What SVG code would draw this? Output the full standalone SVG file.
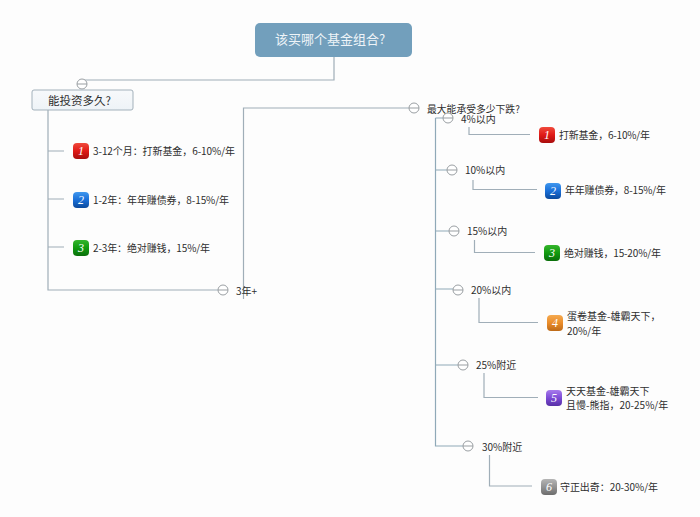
<svg xmlns="http://www.w3.org/2000/svg" width="700" height="517" viewBox="0 0 700 517">
<style>
text{font-family:"Noto Sans CJK SC","Noto Sans",sans-serif;font-size:10px;fill:#2e2e2e}
.c{fill:none;stroke:#a0aeb8;stroke-width:1.2}
.m{fill:#fff;stroke:#9a9fa3;stroke-width:1}
.d{font-family:"Liberation Serif",serif;font-style:italic;font-size:12px;fill:#fff;text-anchor:middle}
</style>
<defs>
<linearGradient id="r" x1="0" y1="0" x2="0" y2="1"><stop offset="0" stop-color="#f04a3c"/><stop offset=".5" stop-color="#e01a17"/><stop offset="1" stop-color="#a80d0d"/></linearGradient>
<linearGradient id="b" x1="0" y1="0" x2="0" y2="1"><stop offset="0" stop-color="#3f97ee"/><stop offset=".5" stop-color="#1a6fd8"/><stop offset="1" stop-color="#0c4a9c"/></linearGradient>
<linearGradient id="g" x1="0" y1="0" x2="0" y2="1"><stop offset="0" stop-color="#35b52c"/><stop offset=".5" stop-color="#119a10"/><stop offset="1" stop-color="#0a6e0a"/></linearGradient>
<linearGradient id="o" x1="0" y1="0" x2="0" y2="1"><stop offset="0" stop-color="#f5aa50"/><stop offset=".5" stop-color="#ea8c2a"/><stop offset="1" stop-color="#bd6a18"/></linearGradient>
<linearGradient id="p" x1="0" y1="0" x2="0" y2="1"><stop offset="0" stop-color="#a77bec"/><stop offset=".5" stop-color="#7d4bd6"/><stop offset="1" stop-color="#5730a5"/></linearGradient>
<linearGradient id="s" x1="0" y1="0" x2="0" y2="1"><stop offset="0" stop-color="#b5b5b5"/><stop offset=".5" stop-color="#939393"/><stop offset="1" stop-color="#6c6c6c"/></linearGradient>
<linearGradient id="bx" x1="0" y1="0" x2="0" y2="1"><stop offset="0" stop-color="#f7f9fb"/><stop offset="1" stop-color="#eef3f7"/></linearGradient>
<g id="minus"><circle r="5" class="m"/><path d="M-5 0H5" stroke="#9a9fa3" stroke-width="1"/></g>
</defs>
<rect width="700" height="517" fill="#fdfdfd"/>
<g id="connectors">
<path class="c" d="M334 57V80H82"/>
<path class="c" d="M48 110V290H218"/>
<path class="c" d="M48 151H64M48 199H64M48 247H64"/>
<path class="c" d="M243.500 299V108H409"/>
<path class="c" style="stroke:#8fa9b8" d="M435.500 118V446H463M435.500 118H443M435.500 170H447M435.500 231H449M435.500 289H453M435.500 365H458"/>
<path class="c" d="M469 127V134.500H530"/>
<path class="c" d="M473 180V189.500H537"/>
<path class="c" d="M474.500 240V252.500H535"/>
<path class="c" d="M479 298V322.500H538"/>
<path class="c" d="M484 373V397.500H538"/>
<path class="c" d="M489.500 455V486H532"/>
</g>
<g id="root"><rect x="255" y="23" width="157" height="34" rx="5" fill="#729fbc"/><text x="330" y="44" style="font-size:13px;fill:#eef4f8" text-anchor="middle">该买哪个基金组合?</text></g>
<g id="n-duration"><use href="#minus" x="82" y="84"/><rect x="32" y="90" width="101" height="20" rx="2" fill="url(#bx)" stroke="#a3b1bb"/><text x="48" y="105" style="font-size:11.500px">能投资多久?</text></g>
<g id="d1"><rect x="73" y="143" width="16" height="16" rx="4" fill="url(#r)"/><text class="d" x="81" y="155">1</text><text x="93" y="155" textLength="142">3-12个月：打新基金，6-10%/年</text></g>
<g id="d2"><rect x="73" y="192" width="16" height="16" rx="4" fill="url(#b)"/><text class="d" x="81" y="204">2</text><text x="93" y="204" textLength="136">1-2年：年年赚债券，8-15%/年</text></g>
<g id="d3"><rect x="73" y="240" width="16" height="16" rx="4" fill="url(#g)"/><text class="d" x="81" y="252">3</text><text x="93" y="252" textLength="117">2-3年：绝对赚钱，15%/年</text></g>
<g id="n-3y"><use href="#minus" x="223" y="290"/><text x="236" y="295">3年+</text></g>
<g id="n-drop"><use href="#minus" x="414" y="108"/><text x="427" y="112.500" style="font-size:9.800px">最大能承受多少下跌?</text></g>
<g id="a1"><use href="#minus" x="448" y="118"/><text x="461" y="123">4%以内</text></g>
<g id="a2"><use href="#minus" x="452" y="170"/><text x="465" y="174">10%以内</text></g>
<g id="a3"><use href="#minus" x="454" y="231"/><text x="467" y="235">15%以内</text></g>
<g id="a4"><use href="#minus" x="458" y="290"/><text x="471" y="294">20%以内</text></g>
<g id="a5"><use href="#minus" x="463" y="365"/><text x="476" y="369">25%附近</text></g>
<g id="a6"><use href="#minus" x="468" y="446"/><text x="482" y="451">30%附近</text></g>
<g id="b1"><rect x="539" y="127" width="16" height="16" rx="4" fill="url(#r)"/><text class="d" x="547" y="139">1</text><text x="559" y="139" textLength="91">打新基金，6-10%/年</text></g>
<g id="b2"><rect x="545" y="183" width="16" height="16" rx="4" fill="url(#b)"/><text class="d" x="553" y="195">2</text><text x="565" y="194" textLength="101">年年赚债券，8-15%/年</text></g>
<g id="b3"><rect x="544" y="245" width="16" height="16" rx="4" fill="url(#g)"/><text class="d" x="552" y="257">3</text><text x="564" y="257" textLength="97">绝对赚钱，15-20%/年</text></g>
<g id="b4"><rect x="547" y="315" width="16" height="16" rx="4" fill="url(#o)"/><text class="d" x="555" y="327">4</text><text x="567" y="320">蛋卷基金-雄霸天下，</text><text x="567" y="335">20%/年</text></g>
<g id="b5"><rect x="546" y="390" width="16" height="16" rx="4" fill="url(#p)"/><text class="d" x="554" y="402">5</text><text x="566" y="395">天天基金-雄霸天下</text><text x="566" y="409">且慢-熊指，20-25%/年</text></g>
<g id="b6"><rect x="541" y="479" width="16" height="16" rx="4" fill="url(#s)"/><text class="d" x="549" y="491">6</text><text x="560" y="491" textLength="98">守正出奇：20-30%/年</text></g>
</svg>
